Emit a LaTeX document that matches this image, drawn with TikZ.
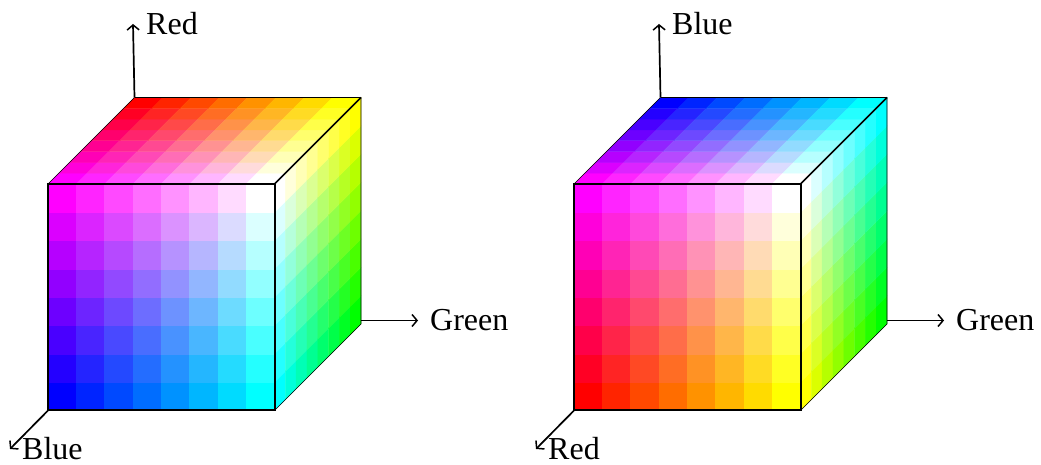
\documentclass[tikz,border=0pt]{standalone}
\usepackage{fontspec}
\usepackage{xcolor}
\setmainfont{Liberation Serif}
\usetikzlibrary{arrows.meta}

\newcommand{\cellw}{28.3125}
\newcommand{\cellz}{10.8125}
% colour of a cell from (up axis, green, front axis)
\newcommand{\colredup}[3]{\definecolor{cellcol}{rgb}{#1,#2,#3}}
\newcommand{\colblueup}[3]{\definecolor{cellcol}{rgb}{#3,#2,#1}}

\tikzset{
  cubecell/.style={draw=cellcol,fill=cellcol,line width=0.3pt},
  cubeedge/.style={line width=2pt,line join=miter},
  backedge/.style={line width=1.1pt},
  thinedge/.style={line width=0.6pt},
  axisarrow/.style={line width=1.7pt,-{Straight Barb[length=5pt,width=12pt,line width=1.5pt]}},
  axislabel/.style={anchor=base west,inner sep=0pt}
}

\begin{document}
\begin{tikzpicture}[x=1pt,y=1pt,font=\fontsize{32}{36}\selectfont]
  \useasboundingbox (0,0) rectangle (1041,465);
  \foreach \cx/\cid/\setcol/\uplab/\frontlab in {48/l/\colredup/Red/Blue,574/r/\colblueup/Blue/Red}{
    \begin{scope}[shift={(\cx,54.5)},name prefix=\cid-]
      % front, top and right faces
      \foreach \i in {0,...,7}{
        \foreach \j in {0,...,7}{
          \pgfmathsetmacro{\vi}{\i/7}
          \pgfmathsetmacro{\vj}{\j/7}
          \pgfmathsetmacro{\wj}{1-\j/7}
          \pgfmathsetmacro{\wi}{1-\i/7}
          \setcol{\vj}{\vi}{1}
          \filldraw[cubecell] (\i*\cellw,\j*\cellw) rectangle ({(\i+1)*\cellw},{(\j+1)*\cellw});
          \setcol{1}{\vi}{\wj}
          \filldraw[cubecell] ({\i*\cellw+\j*\cellz},{8*\cellw+\j*\cellz}) -- ++(\cellw,0) -- ++(\cellz,\cellz) -- ++(-\cellw,0) -- cycle;
          \setcol{\vj}{1}{\wi}
          \filldraw[cubecell] ({8*\cellw+\i*\cellz},{\j*\cellw+\i*\cellz}) -- ++(\cellz,\cellz) -- ++(0,\cellw) -- ++(-\cellz,-\cellz) -- cycle;
        }
      }
      \coordinate (fbl) at (0,0);
      \coordinate (fbr) at (226.5,0);
      \coordinate (ftl) at (0,226.5);
      \coordinate (ftr) at (226.5,226.5);
      \coordinate (btl) at (86.5,313);
      \coordinate (btr) at (313,313);
      \coordinate (bbr) at (313,86.5);
      \coordinate (upend) at (85,386.5);
      \coordinate (greenstart) at (313,90);
      \coordinate (greenend) at (370,90);
      \coordinate (frontend) at (-38,-38.5);
      \draw[thinedge] (ftl) -- (btl);
      \draw[backedge] (btl) -- (btr);
      \draw[thinedge] (btr) -- (bbr) -- (fbr);
      \draw[line width=1.5pt] (ftr) -- (btr);
      \draw[cubeedge] (fbl) rectangle (ftr);
      \draw[axisarrow] (btl) -- (upend);
      \draw[axisarrow] (greenstart) -- (greenend);
      \draw[axisarrow] (fbl) -- (frontend);
      \node[axislabel] (uplabel) at (98,375.5) {\uplab};
      \node[axislabel] (greenlabel) at (382,79.5) {Green};
      \node[axislabel] (frontlabel) at (-26,-49.5) {\frontlab};
    \end{scope}
  }
\end{tikzpicture}
\end{document}
